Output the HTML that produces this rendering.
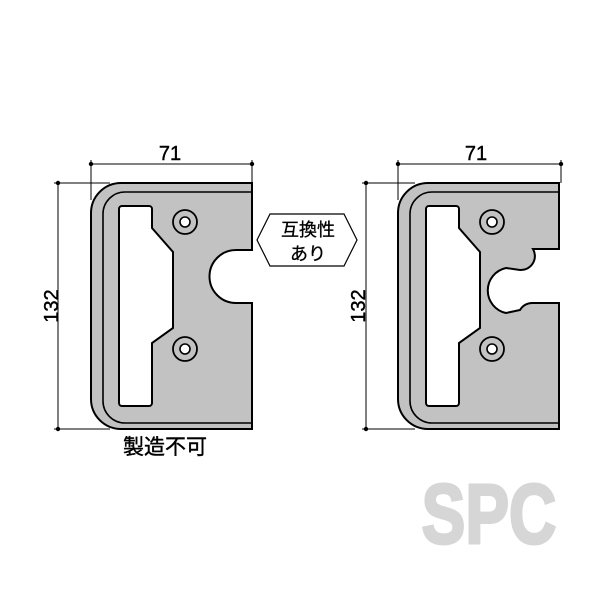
<!DOCTYPE html>
<html><head><meta charset="utf-8"><style>body{margin:0;background:#fff}svg{display:block}</style></head><body>
<svg width="600" height="600" viewBox="0 0 600 600" xmlns="http://www.w3.org/2000/svg" font-family="Liberation Sans, Noto Sans CJK JP, sans-serif">
<defs>
<g id="plateBase">
<path d="M252,183 H121 A30,30 0 0 0 91,213 V399 A30,30 0 0 0 121,429 H252 Z" fill="#c2c2c2" stroke="#000" stroke-width="2"/>
<path d="M252,192 H125 A22,22 0 0 0 103,214 V401 A22,22 0 0 0 125,423 H252" fill="none" stroke="#000" stroke-width="1.6"/>
<path d="M122,206 H149 A3,3 0 0 1 152,209 V228 L173,252 V328 L152,343 V403 A3,3 0 0 1 149,406 H122 A3,3 0 0 1 119,403 V209 A3,3 0 0 1 122,206 Z" fill="#fff" stroke="#000" stroke-width="2"/>
<circle cx="185" cy="222" r="12" fill="none" stroke="#000" stroke-width="1.8"/>
<circle cx="185" cy="222" r="5" fill="#fff" stroke="#000" stroke-width="1.6"/>
<circle cx="185" cy="349" r="12" fill="none" stroke="#000" stroke-width="1.8"/>
<circle cx="185" cy="349" r="5" fill="#fff" stroke="#000" stroke-width="1.6"/>
</g>
</defs>
<use href="#plateBase"/>
<path d="M253,250 H236 A26.5,26.5 0 0 0 236,303 H253" fill="#fff" stroke="#000" stroke-width="2"/>
<rect x="253" y="252" width="6" height="49" fill="#fff"/>
<g transform="translate(307,0)"><use href="#plateBase"/></g>
<path d="M560,249 H533 A14,14 0 0 1 520,270 L506,268 A23,23 0 0 0 506,313 L520,310 A14,14 0 0 1 533,303 H560" fill="#fff" stroke="#000" stroke-width="2"/>
<rect x="560" y="251" width="6" height="51" fill="#fff"/>
<g stroke="#000" stroke-width="1" fill="none">
<line x1="91" y1="164" x2="252" y2="164"/><line x1="91" y1="160" x2="91" y2="200"/><line x1="252" y1="160" x2="252" y2="183"/>
<line x1="58" y1="183" x2="58" y2="429"/><line x1="54" y1="183" x2="110" y2="183"/><line x1="54" y1="429" x2="110" y2="429"/>
<line x1="398" y1="164" x2="561" y2="164"/><line x1="398" y1="160" x2="398" y2="200"/><line x1="561" y1="160" x2="561" y2="183"/>
<line x1="366" y1="183" x2="366" y2="429"/><line x1="362" y1="183" x2="415" y2="183"/><line x1="362" y1="429" x2="415" y2="429"/>
</g>
<g fill="#000">
<circle cx="91" cy="164" r="2.2"/><circle cx="252" cy="164" r="2.2"/><circle cx="58" cy="183" r="2.2"/><circle cx="58" cy="429" r="2.2"/>
<circle cx="398" cy="164" r="2.2"/><circle cx="561" cy="164" r="2.2"/><circle cx="366" cy="183" r="2.2"/><circle cx="366" cy="429" r="2.2"/>
</g>
<g font-size="20" fill="#000" text-anchor="middle" stroke="#000" stroke-width="0.4">
<text x="170" y="160">71</text>
<text x="476" y="160">71</text>
<text transform="translate(58,306) rotate(-90)">132</text>
<text transform="translate(365,306) rotate(-90)">132</text>
<text x="165" y="454" font-size="21">製造不可</text>
</g>
<polygon points="257,240 270,214 344,214 357,240 344,266 270,266" fill="#fff" stroke="#000" stroke-width="1.2"/>
<g font-size="18" text-anchor="middle" fill="#000" stroke="#000" stroke-width="0.3">
<text x="308" y="236">互換性</text>
<text x="308" y="260">あり</text>
</g>
<text transform="translate(489,543) scale(0.78,1)" font-size="84" font-weight="bold" fill="#d6d6d6" text-anchor="middle" stroke="#d6d6d6" stroke-width="3">SPC</text>
</svg>
</body></html>
